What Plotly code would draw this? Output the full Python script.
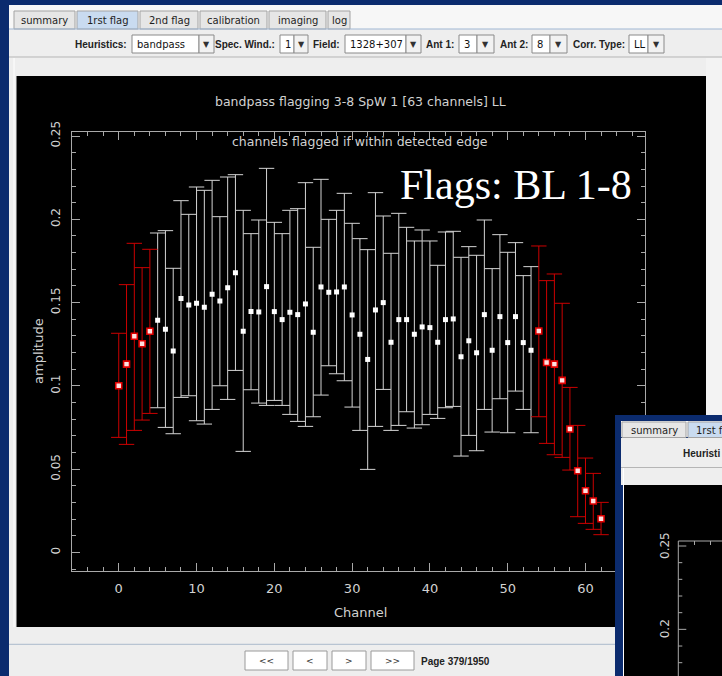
import plotly.graph_objects as go

# ---------------- data ----------------
channels = list(range(63))
amplitude = [
    0.1001, 0.1131, 0.1298, 0.1253, 0.1328, 0.1394, 0.1340, 0.1209, 0.1524, 0.1486,
    0.1496, 0.1472, 0.1550, 0.1510, 0.1590, 0.1680, 0.1328, 0.1446, 0.1444, 0.1596,
    0.1446, 0.1398, 0.1442, 0.1428, 0.1492, 0.1322, 0.1594, 0.1562, 0.1564, 0.1594,
    0.1426, 0.1310, 0.1159, 0.1456, 0.1500, 0.1262, 0.1398, 0.1398, 0.1310, 0.1354,
    0.1350, 0.1262, 0.1398, 0.1402, 0.1175, 0.1271, 0.1199, 0.1428, 0.1214, 0.1416,
    0.1260, 0.1416, 0.1260, 0.1214, 0.1330, 0.1141, 0.1131, 0.1033, 0.0741, 0.0491,
    0.0371, 0.0309, 0.0203]
upper = [
    0.1316, 0.1608, 0.1856, 0.1710, 0.1820, 0.1918, 0.1932, 0.1706, 0.2112, 0.2030,
    0.2194, 0.2174, 0.2234, 0.2016, 0.2254, 0.2268, 0.2054, 0.1914, 0.1996, 0.2306,
    0.1982, 0.1914, 0.2054, 0.2064, 0.2220, 0.1832, 0.2240, 0.2000, 0.2054, 0.2156,
    0.1976, 0.1884, 0.1818, 0.2160, 0.2020, 0.1796, 0.2036, 0.1952, 0.1870, 0.1936,
    0.1870, 0.1724, 0.1924, 0.1928, 0.1772, 0.1836, 0.1784, 0.1996, 0.1704, 0.1908,
    0.1802, 0.1860, 0.1662, 0.1716, 0.1840, 0.1632, 0.1672, 0.1496, 0.0991, 0.0763,
    0.0567, 0.0475, 0.0301]
lower = [
    0.0691, 0.0649, 0.0733, 0.0795, 0.0835, 0.0869, 0.0751, 0.0713, 0.0931, 0.0941,
    0.0791, 0.0771, 0.0859, 0.1001, 0.0919, 0.1093, 0.0607, 0.0977, 0.0897, 0.0883,
    0.0913, 0.0883, 0.0829, 0.0787, 0.0757, 0.0815, 0.0945, 0.1121, 0.1073, 0.1031,
    0.0873, 0.0733, 0.0499, 0.0757, 0.0979, 0.0733, 0.0763, 0.0845, 0.0747, 0.0767,
    0.0829, 0.0805, 0.0869, 0.0877, 0.0579, 0.0703, 0.0611, 0.0859, 0.0723, 0.0923,
    0.0719, 0.0969, 0.0859, 0.0719, 0.0815, 0.0655, 0.0587, 0.0571, 0.0495, 0.0215,
    0.0175, 0.0139, 0.0107]
flagged_channels = [0, 1, 2, 3, 4, 54, 55, 56, 57, 58, 59, 60, 61, 62]

title_text = "bandpass flagging 3-8 SpW 1 [63 channels] LL"
subtitle_text = "channels flagged if within detected edge"
flags_text = "Flags: BL 1-8"
tabs = ["summary", "1rst flag", "2nd flag", "calibration", "imaging", "log"]
combo_labels = ["Heuristics:", "Spec. Wind.:", "Field:", "Ant 1:", "Ant 2:", "Corr. Type:"]
combo_values = ["bandpass", "1", "1328+307", "3", "8", "LL"]
nav_buttons = ["<<", "<", ">", ">>"]
page_text = "Page 379/1950"
overlay_tabs = ["summary", "1rst f"]
overlay_label = "Heuristi"
overlay_ticks = ["0.25", "0.2"]

# ---------------- helpers ----------------
W, H = 722, 676
def px(x): return x / W
def py(y): return 1 - y / H

shapes, annotations = [], []

def rect(x0, y0, x1, y1, fill, line=None, lw=1, layer="below"):
    shapes.append(dict(type="rect", xref="paper", yref="paper",
                       x0=px(x0), x1=px(x1), y0=py(y1), y1=py(y0),
                       fillcolor=fill,
                       line=dict(color=line if line else fill, width=lw if line else 0),
                       layer=layer))

def seg(x0, y0, x1, y1, color, lw=1, layer="below"):
    shapes.append(dict(type="line", xref="paper", yref="paper",
                       x0=px(x0), x1=px(x1), y0=py(y0), y1=py(y1),
                       line=dict(color=color, width=lw), layer=layer))

def text(x, y, s, size=10, color="#222222", family="DejaVu Sans", xanchor="center",
         angle=0, bold=False):
    annotations.append(dict(xref="paper", yref="paper", x=px(x), y=py(y),
                            text=("<b>%s</b>" % s) if bold else s, showarrow=False,
                            xanchor=xanchor, yanchor="middle", textangle=angle,
                            font=dict(size=size, color=color, family=family)))

NAVY = "#0b2b6e"
GUI = "#eeeeee"
TAB = "#e6e6e6"
TABSEL = "#c9dbf0"
BORD = "#a3a3a3"
AX = "#a9a9a9"
TXT = "#d2d2d2"
PFONT = "DejaVu Sans"

# ---------------- GUI chrome (main window) ----------------
rect(0, 0, W, 5, NAVY)
rect(0, 0, 9, H, NAVY)
rect(9, 5, W, 29, "#f7f7f7")
tab_x = [(14, 75), (77, 138), (140, 198), (200, 267), (269, 326), (328, 350)]
for i, (t, (a, b)) in enumerate(zip(tabs, tab_x)):
    rect(a, 11, b, 29, TABSEL if i == 1 else TAB, BORD, 1)
    text((a + b) / 2, 20.5, t, size=10, color="#1e1e1e")
seg(9, 29, W, 29, "#9fb6d3", 1)
rect(9, 30, W, 57, GUI)
label_x = [(76, 129), (219, 277), (315, 342), (426, 456), (500, 530), (573, 627)]
box_x = [(132, 199), (280, 294), (345, 406), (459, 477), (532, 550), (629, 648)]
arrow_x = [(199, 214), (294, 308), (406, 421), (477, 494), (550, 567), (648, 664)]
for lab, val, (la, lb), (ba, bb), (aa, ab) in zip(combo_labels, combo_values, label_x, box_x, arrow_x):
    text(lb, 44, lab, size=10, color="#222222", family="Liberation Sans", xanchor="right", bold=True)
    rect(ba, 35, bb, 53, "#ffffff", "#8a8a8a", 1)
    text(ba + 3, 44.5, val, size=10, color="#111111", family="DejaVu Sans", xanchor="left")
    rect(aa, 35, ab, 53, "#f2f2f2", "#8a8a8a", 1)
    text((aa + ab) / 2, 44, "\u25BC", size=8, color="#333333")
seg(9, 57, W, 57, "#b5b5b5", 1)
rect(9, 58, W, 76, GUI)
seg(14, 58, 14, 644, "#ffffff", 1)
# black plot panel
rect(16.5, 76, 706, 627, "#000000")
rect(706, 58, W, 415, "#f3f3f3")
# bottom bar
rect(9, 627, 615, 644, GUI)
seg(9, 644.5, 615, 644.5, "#b8c4d2", 1.5)
rect(9, 645, 615, H, GUI)
btn_x = [(245, 288), (293, 327), (332, 366), (371, 414)]
for b, (a, c) in zip(nav_buttons, btn_x):
    rect(a, 651, c, 670, "#ffffff", "#9a9a9a", 1)
    text((a + c) / 2, 661, b, size=9, color="#333333")
text(419, 661, page_text, size=10, color="#222222", family="Liberation Sans", xanchor="left", bold=True)

# ---------------- overlay window (bottom right) ----------------
rect(615, 415, W, H, NAVY, layer="above")
rect(621, 421, W, 437, "#f6f6f6", layer="above")
rect(622, 422, 686, 437.5, TAB, BORD, 1, layer="above")
rect(688, 422, W + 5, 437.5, TABSEL, BORD, 1, layer="above")
rect(621, 438, W, 467, GUI, layer="above")
seg(621, 467.5, W, 467.5, "#b5b5b5", 1, layer="above")
rect(621, 468, W, 485, GUI, layer="above")
seg(623.5, 468, 623.5, H, "#ffffff", 1, layer="above")
rect(624, 485, W, H, "#000000", layer="above")
seg(678.3, 541, 678.3, H, AX, 1, layer="above")
seg(678.3, 541, W, 541, AX, 1, layer="above")
for k in range(9):
    yy = 546 + k * 16.67
    ln = 8 if k in (0, 5) else 4
    seg(678.3, yy, 678.3 + ln, yy, AX, 1, layer="above")
for xx in (694.5, 710.5):
    seg(xx, 541, xx, 545, AX, 1, layer="above")
text(654, 430, overlay_tabs[0], size=10, color="#1e1e1e")
text(694, 430, overlay_tabs[1], size=10, color="#1e1e1e", xanchor="left")
text(681, 453, overlay_label, size=10, color="#222222", family="Liberation Sans", xanchor="left", bold=True)
text(665, 546, overlay_ticks[0], size=12, color=TXT, family=PFONT, angle=-90)
text(665, 629.3, overlay_ticks[1], size=12, color=TXT, family=PFONT, angle=-90)

# ---------------- plot texts ----------------
text(360, 101, title_text, size=12.5, color=TXT, family=PFONT)
text(360, 142, subtitle_text, size=12.5, color=TXT, family=PFONT)
text(516, 185, flags_text, size=42, color="#ffffff", family="Liberation Serif")
text(38, 351, "amplitude", size=13, color=TXT, family=PFONT, angle=-90)
text(360, 612, "Channel", size=13, color=TXT, family=PFONT)

# ---------------- traces ----------------
fset = set(flagged_channels)
def pick(flag):
    idx = [i for i in range(len(channels)) if (channels[i] in fset) == flag]
    xs = [channels[i] for i in idx]
    ys = [amplitude[i] for i in idx]
    up = [upper[i] - amplitude[i] for i in idx]
    dn = [amplitude[i] - lower[i] for i in idx]
    return xs, ys, up, dn

gx, gy, gu, gd = pick(False)
fx, fy, fu, fd = pick(True)

fig = go.Figure()
fig.add_trace(go.Scatter(
    x=gx, y=gy, mode="markers", name="good",
    marker=dict(symbol="square", size=5, color="#ffffff", line=dict(width=0)),
    error_y=dict(type="data", symmetric=False, array=gu, arrayminus=gd,
                 color="#d4d4d4", thickness=1, width=7.7)))
fig.add_trace(go.Scatter(
    x=fx, y=fy, mode="markers", name="flagged",
    marker=dict(symbol="square", size=6, color="#ffe0e0", line=dict(width=1.6, color="#e00000")),
    error_y=dict(type="data", symmetric=False, array=fu, arrayminus=fd,
                 color="#cc0000", thickness=1, width=7.7)))

fig.update_layout(
    width=W, height=H, autosize=False,
    margin=dict(l=0, r=0, t=0, b=0, autoexpand=False),
    paper_bgcolor=GUI, plot_bgcolor="#000000",
    showlegend=False,
    shapes=shapes, annotations=annotations,
    xaxis=dict(domain=[px(71.7), px(645)], range=[-6.05, 67.65], automargin=False,
               showline=True, linecolor=AX, linewidth=1, mirror="allticks",
               ticks="inside", ticklen=8, tickwidth=1, tickcolor=AX,
               tickmode="linear", tick0=0, dtick=10,
               minor=dict(ticks="inside", ticklen=4, tickcolor=AX, tickwidth=1,
                          tickmode="linear", tick0=0, dtick=2, showgrid=False),
               showgrid=False, zeroline=False, ticklabelstandoff=5,
               tickfont=dict(family=PFONT, size=13, color=TXT)),
    yaxis=dict(domain=[py(571), py(131.7)], range=[-0.0111, 0.2526], automargin=False,
               showline=True, linecolor=AX, linewidth=1, mirror="allticks",
               ticks="inside", ticklen=8, tickwidth=1, tickcolor=AX,
               tickmode="linear", tick0=0, dtick=0.05, tickangle=-90,
               minor=dict(ticks="inside", ticklen=4, tickcolor=AX, tickwidth=1,
                          tickmode="linear", tick0=0, dtick=0.01, showgrid=False),
               showgrid=False, zeroline=False, ticklabelstandoff=6,
               tickfont=dict(family=PFONT, size=12, color=TXT)),
)

fig.write_html("out.html")
